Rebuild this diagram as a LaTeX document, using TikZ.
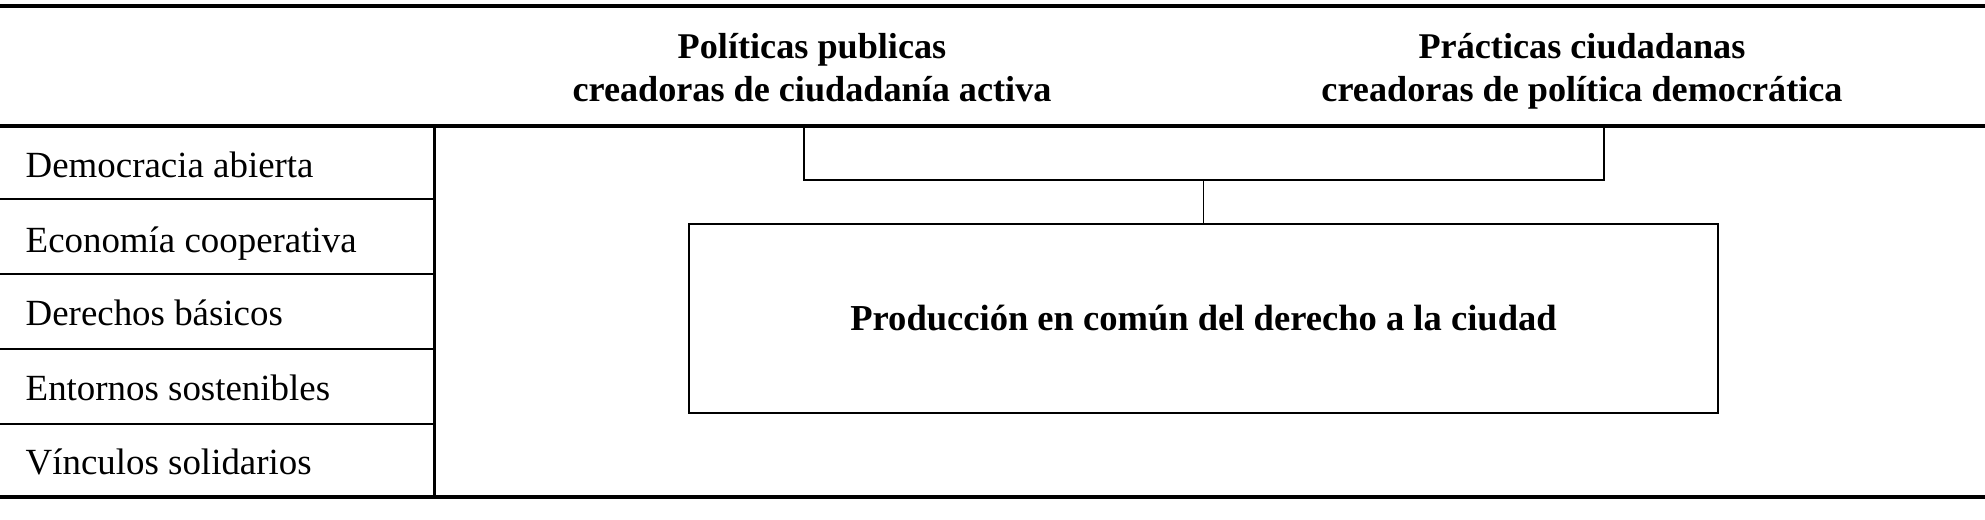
\documentclass[tikz,border=0pt]{standalone}
\usepackage{fontspec}
\setmainfont{Liberation Serif}
\begin{document}
\begin{tikzpicture}[
    rulethick/.style={line width=1.15pt},
    rulethin/.style={line width=0.5pt},
    rowlabel/.style={anchor=base west, inner sep=0pt, font=\fontsize{10.5}{12.6}\selectfont},
    colhead/.style={anchor=base, align=center, inner sep=0pt, font=\fontsize{10.3}{12.2}\selectfont\bfseries},
    prodbox/.style={draw, line width=0.5pt, minimum width=10.29cm, minimum height=1.89cm, font=\fontsize{10.4}{12.5}\selectfont\bfseries}
]
    \useasboundingbox (0, 0) rectangle (19.85, 5.19);

    % Rules of the table
    \draw[rulethick] (0, 5.13) -- (19.85, 5.13);
    \draw[rulethick] (0, 3.93) -- (19.85, 3.93);
    \draw[rulethick] (0, 0.22) -- (19.85, 0.22);
    \draw[line width=0.85pt] (4.345, 3.93) -- (4.345, 0.22);

    % Column heads
    \node[colhead] (pol) at (8.12, 4.18) {Políticas publicas\\creadoras de ciudadanía activa};
    \node[colhead] (prac) at (15.82, 4.18) {Prácticas ciudadanas\\creadoras de política democrática};

    % Rows on the left
    \foreach \y in {3.20, 2.45, 1.70, 0.95}
        \draw[rulethin] (0, \y) -- (4.345, \y);
    \foreach \txt/\y [count=\i] in {Democracia abierta/3.42, Economía cooperativa/2.67,
        Derechos básicos/1.94, Entornos sostenibles/1.19, Vínculos solidarios/0.45}
        \node[rowlabel] (row\i) at (0.25, \y) {\txt};

    % Common production
    \node[prodbox] (prod) at (12.035, 2.005) {Producción en común del derecho a la ciudad};

    % Bracket joining both heads
    \coordinate (polfoot) at (8.04, 3.91);
    \coordinate (pracfoot) at (16.04, 3.91);
    \coordinate (join) at (12.035, 3.39);
    \draw[rulethin] (polfoot) |- (join) -| (pracfoot);
    \draw[rulethin] (join) -- (prod.north);
\end{tikzpicture}
\end{document}
